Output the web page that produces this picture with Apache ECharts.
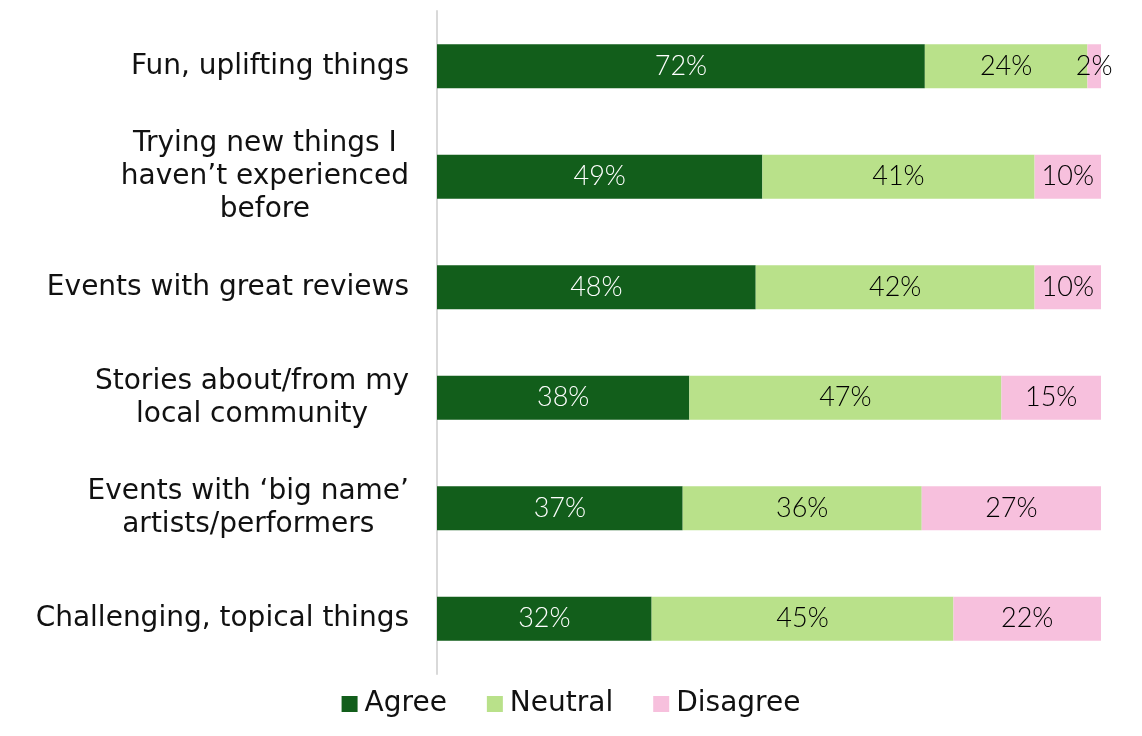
<!DOCTYPE html>
<html><head><meta charset="utf-8">
<script src="https://cdn.jsdelivr.net/npm/echarts@6/dist/echarts.min.js"></script>
<style>html,body{margin:0;padding:0;background:#fff}#c{width:1142px;height:736px}</style>
</head><body><div id="c"></div>
<script>
const categories = [
  "Fun, uplifting things",
  "Trying new things I\nhaven\u2019t experienced\nbefore",
  "Events with great reviews",
  "Stories about/from my\nlocal community",
  "Events with \u2018big name\u2019\nartists/performers",
  "Challenging, topical things"
];
const agree    = [72, 49, 48, 38, 37, 32];
const neutral  = [24, 41, 42, 47, 36, 45];
const disagree = [2, 10, 10, 15, 27, 22];
const seriesNames = ["Agree", "Neutral", "Disagree"];
const colors = ["#125E1B", "#B9E18A", "#F7C0DD"];
const labelColors = ["#ffffff", "#000000", "#000000"];

const raw = [agree, neutral, disagree];
const totals = categories.map((_, i) => agree[i] + neutral[i] + disagree[i]);

const FONT = 'DejaVu Sans';

const series = raw.map((arr, s) => ({
  name: seriesNames[s],
  type: 'bar',
  stack: 'total',
  barWidth: 44,
  itemStyle: { color: colors[s] },
  data: arr.map((v, i) => ({ value: v / totals[i] * 100, raw: v })),
  label: {
    show: true,
    position: 'inside',
    color: labelColors[s],
    fontFamily: 'Lato',
    fontWeight: 300,
    fontSize: 27,
    formatter: p => p.data.raw + '%'
  }
}));

const chart = echarts.init(document.getElementById('c'), null, { renderer: 'canvas' });
chart.setOption({
  animation: false,
  grid: { left: 437, right: 41, top: 11, bottom: 62 },
  xAxis: { type: 'value', min: 0, max: 100, show: false },
  yAxis: {
    type: 'category',
    inverse: true,
    data: categories,
    axisLine: { show: true, lineStyle: { color: '#D9D9D9', width: 2 } },
    axisTick: { show: false },
    axisLabel: {
      margin: 28,
      color: '#111',
      fontFamily: FONT,
      fontSize: 28,
      lineHeight: 33,
      align: 'right',
      formatter: v => v.split('\n').map(l => '{c|' + l + '}').join('\n'),
      rich: { c: { align: 'center', fontFamily: FONT, fontSize: 28, lineHeight: 33, color: '#111' } }
    }
  },
  legend: {
    bottom: 13,
    left: 'center',
    itemWidth: 16,
    itemHeight: 16,
    itemGap: 40,
    icon: 'rect',
    textStyle: { fontFamily: FONT, fontSize: 28, color: '#111', padding: [0, 0, 0, 2] },
    data: seriesNames
  },
  series: series
});
</script></body></html>
